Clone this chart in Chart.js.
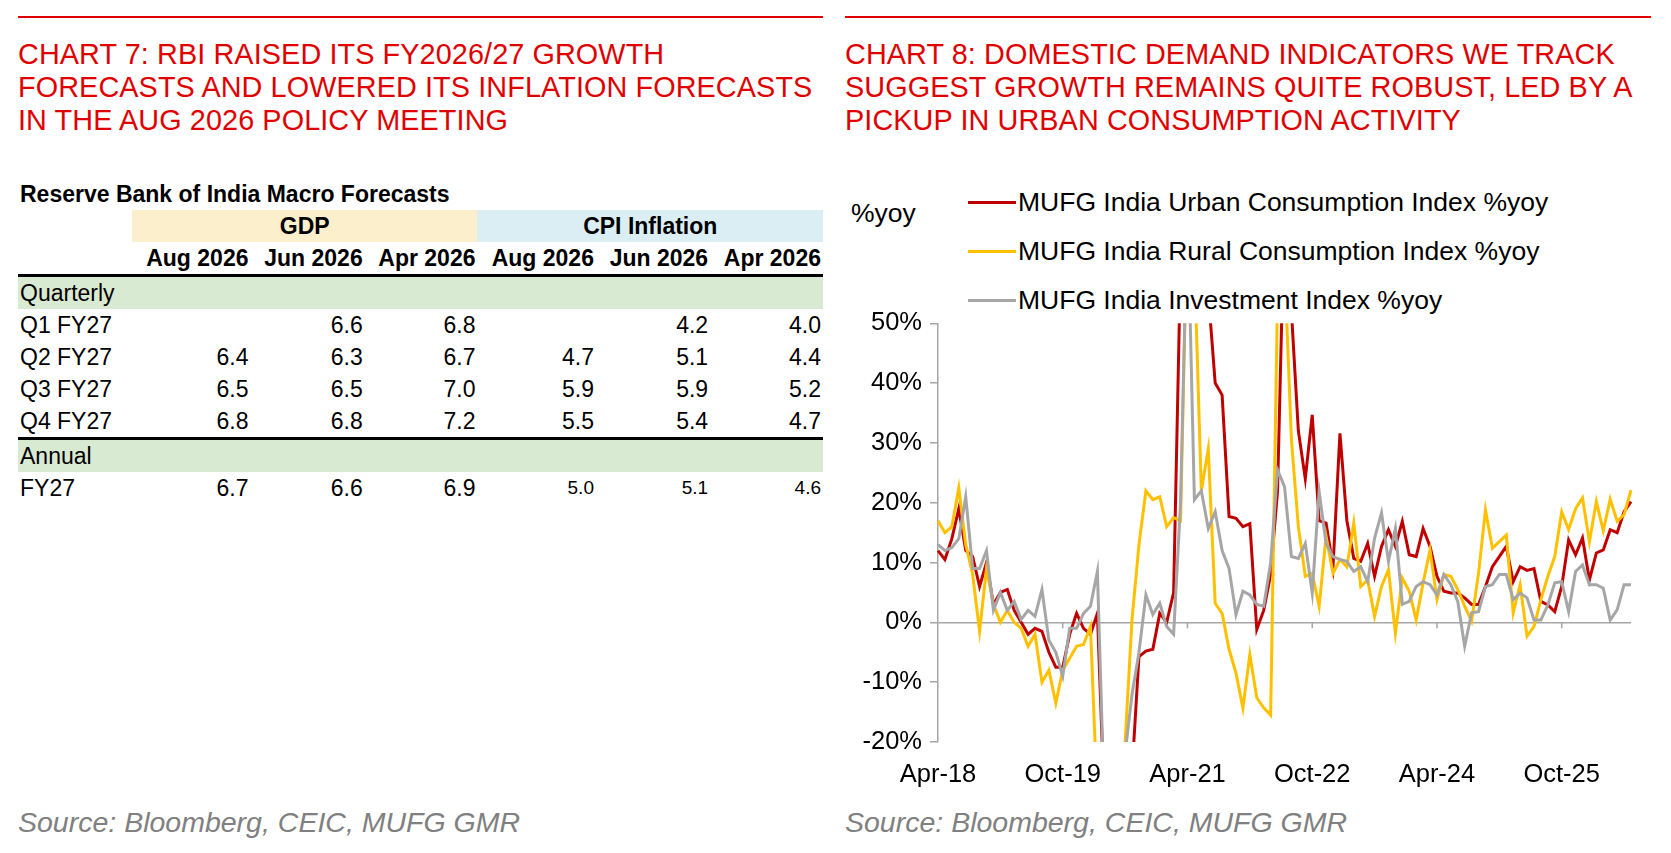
<!DOCTYPE html>
<html><head><meta charset="utf-8">
<script src="https://cdn.jsdelivr.net/npm/chart.js@4"></script>
<style>
body{margin:0;width:1671px;height:853px;background:#fff;font-family:"Liberation Sans",Arial,sans-serif;position:relative;overflow:hidden}
.rule{position:absolute;top:16px;height:2px;background:#e00000}
.title{position:absolute;top:38px;color:#e00000;font-size:28.8px;line-height:33px;letter-spacing:0.1px}
.src{position:absolute;top:806px;color:#808080;font-style:italic;font-size:28.5px}
#tbl{position:absolute;left:18px;top:178px;width:805px;font-family:"Liberation Sans Narrow","Arial Narrow","Liberation Sans",sans-serif}
#tbl table{border-collapse:collapse;width:805px;font-size:23px}
#tbl td{padding:0 2px;height:32px;text-align:right}
#tbl td:first-child{text-align:left;width:110px}
.cap{font-weight:bold;font-size:23px;height:30px;text-align:left!important}
.hd td{font-weight:bold;text-align:center!important}
.dates td{font-weight:bold;border-bottom:3px solid #000}
.band td{background:#d9ead3}
.sep td{border-bottom:3px solid #000}
#legend{position:absolute;left:968px;top:178px;font-size:26.5px;color:#000}
#legend div{height:49px;display:flex;align-items:center}
#legend i{display:inline-block;width:48px;height:3.5px;margin-right:2px}
#unit{position:absolute;left:851px;top:198px;font-size:26.5px}
#wrap{position:absolute;left:845px;top:300px;width:826px;height:500px}
</style></head><body>
<div class="rule" style="left:18px;width:805px"></div>
<div class="rule" style="left:845px;width:806px"></div>
<div class="title" style="left:18px">CHART 7: RBI RAISED ITS FY2026/27 GROWTH<br>FORECASTS AND LOWERED ITS INFLATION FORECASTS<br>IN THE AUG 2026 POLICY MEETING</div>
<div class="title" style="left:845px">CHART 8: DOMESTIC DEMAND INDICATORS WE TRACK<br>SUGGEST GROWTH REMAINS QUITE ROBUST, LED BY A<br>PICKUP IN URBAN CONSUMPTION ACTIVITY</div>

<div id="tbl"><table>
<tr><td class="cap" colspan="7">Reserve Bank of India Macro Forecasts</td></tr>
<tr class="hd"><td></td><td colspan="3" style="background:#fcefcb">GDP</td><td colspan="3" style="background:#dbeef3">CPI Inflation</td></tr>
<tr class="dates"><td></td><td>Aug 2026</td><td>Jun 2026</td><td>Apr 2026</td><td>Aug 2026</td><td>Jun 2026</td><td>Apr 2026</td></tr>
<tr class="band"><td colspan="7" style="text-align:left">Quarterly</td></tr>
<tr><td>Q1 FY27</td><td></td><td>6.6</td><td>6.8</td><td></td><td>4.2</td><td>4.0</td></tr>
<tr><td>Q2 FY27</td><td>6.4</td><td>6.3</td><td>6.7</td><td>4.7</td><td>5.1</td><td>4.4</td></tr>
<tr><td>Q3 FY27</td><td>6.5</td><td>6.5</td><td>7.0</td><td>5.9</td><td>5.9</td><td>5.2</td></tr>
<tr class="sep"><td>Q4 FY27</td><td>6.8</td><td>6.8</td><td>7.2</td><td>5.5</td><td>5.4</td><td>4.7</td></tr>
<tr class="band"><td colspan="7" style="text-align:left">Annual</td></tr>
<tr><td>FY27</td><td>6.7</td><td>6.6</td><td>6.9</td><td style="font-size:19px">5.0</td><td style="font-size:19px">5.1</td><td style="font-size:19px">4.6</td></tr>
</table></div>

<div id="unit">%yoy</div>
<div id="legend">
<div><i style="background:#c00000"></i>MUFG India Urban Consumption Index %yoy</div>
<div><i style="background:#ffc000"></i>MUFG India Rural Consumption Index %yoy</div>
<div><i style="background:#a6a6a6"></i>MUFG India Investment Index %yoy</div>
</div>
<div id="wrap"><canvas id="c" width="826" height="500"></canvas></div>

<div class="src" style="left:18px">Source: Bloomberg, CEIC, MUFG GMR</div>
<div class="src" style="left:845px">Source: Bloomberg, CEIC, MUFG GMR</div>

<script>
// monthly, Apr-18 .. Aug-26
const urban = [12, 10.5, 14, 19, 12, 11, 6, 10, 3, 5,
  5.5, 2, 0, -2, -1, -1.5, -5, -7.5, -7.5, -2,
  1.5, -1, -2, 1.5, -30, -35, -40, -35, -25, -5.7,
  -4.8, -4.5, 1.5, 0, 5, 60, 120, 100, 80, 55,
  40, 38, 17.7, 17.4, 16, 16.5, -1.2, 2, 8, 22,
  70, 52, 32, 24, 34.7, 17, 16.6, 9.3, 31.6, 17,
  10.7, 10.2, 13.2, 7.7, 12.7, 15.5, 12.7, 16.9, 11.3, 11,
  15.7, 12.7, 7.7, 5.2, 4.9, 4.9, 4.1, 3, 3, 6,
  9.3, 11, 12.7, 6.8, 9.3, 8.7, 9, 3.5, 2.9, 1.8,
  6, 13.8, 11.3, 14.1, 7.1, 11.6, 12.1, 15.5, 15, 18.5,
  20.2];
const rural = [17, 15, 16, 22.5, 13, 8, -1.5, 9, 3, 0,
  2, 0, -1, -4, -2, -10, -8, -13.5, -8, -6,
  -4, -3.7, -0.7, -30, -40, -40, -35, -20, 0.5, 13,
  22, 20.5, 21, 16, 17.5, 17, 70, 60, 22, 29,
  3.2, 1.5, -4.5, -8.5, -14.3, -5.4, -12.6, -14.3, -15.5, 55,
  60, 30.5, 16, 7.7, 8.2, 2.7, 14.4, 8.2, 10.5, 9.3,
  16.6, 6, 7.1, 1, 6, 8.8, -1.8, 7.4, 5.2, 0.4,
  6.6, 12.1, 3.8, 8, 7.7, 5.5, 2.7, 0.2, 8.2, 18.8,
  12.4, 13.5, 14.6, 1.6, 6.3, -2.3, -0.7, 3.8, 7.7, 11,
  18.5, 15.5, 19, 20.8, 13.5, 20.2, 15.3, 20.6, 16.9, 18,
  22.1];
const invest = [13, 12, 12.5, 14, 21, 9, 9, 12, 2, 5,
  2, 3.5, 0.5, 2, 1, 5.5, -3, -5, -9, -1,
  -1, 1.5, 2.7, 8.5, -30, -40, -40, -22, -12, -5,
  4.6, 1.3, 3.2, -0.7, -2, 20, 70, 20.5, 22, 15.7,
  18.5, 12, 9, 1.3, 5.2, 4.6, 3, 2.7, 10, 25.5,
  22.7, 11, 10.7, 13.2, 4.9, 21.9, 13.2, 11, 10.5, 10.2,
  8.5, 9.3, 6.8, 14.1, 18.3, 10.2, 15.7, 3, 3.5, 6,
  6.8, 6.3, 4.6, 8, 6.3, 3.5, -4, 1.6, 1.8, 6,
  6.3, 8, 8, 3.8, 4.9, 4.1, 0.4, 0.4, 2.9, 6.6,
  6.8, 1.8, 8.5, 9.6, 6.3, 6.3, 5.7, 0.4, 2.1, 6.3,
  6.3];
const monthNames = ['Jan','Feb','Mar','Apr','May','Jun','Jul','Aug','Sep','Oct','Nov','Dec'];
const months = urban.map((_, i) => { const m = 3 + i; return monthNames[m % 12] + '-' + String(18 + Math.floor(m / 12)); });
const shownTicks = ['Apr-18', 'Oct-19', 'Apr-21', 'Oct-22', 'Apr-24', 'Oct-25'];

const zeroTicks = {
  id: 'zeroTicks',
  afterDraw(chart) {
    const { ctx, scales: { x, y } } = chart;
    const y0 = y.getPixelForValue(0);
    ctx.save();
    ctx.strokeStyle = '#a6a6a6'; ctx.lineWidth = 1.5;
    months.forEach((m, i) => {
      if (!shownTicks.includes(m) || i === 0) return;
      const px = x.getPixelForValue(i);
      ctx.beginPath(); ctx.moveTo(px, y0); ctx.lineTo(px, y0 + 6); ctx.stroke();
    });
    ctx.restore();
  }
};

const ds = (data, color) => ({ data, borderColor: color, borderWidth: 3, pointRadius: 0, tension: 0, fill: false });
new Chart(document.getElementById('c'), {
  type: 'line',
  data: { labels: months, datasets: [ds(invest, '#a6a6a6'), ds(rural, '#ffc000'), ds(urban, '#c00000')] },
  plugins: [zeroTicks],
  options: {
    responsive: false, animation: false, maintainAspectRatio: false,
    layout: { padding: { top: 23, right: 40, left: 0, bottom: 0 } },
    plugins: { legend: { display: false }, tooltip: { enabled: false } },
    scales: {
      x: {
        grid: { display: false }, border: { display: false },
        afterFit: (s) => { s.height = 58; },
        ticks: { autoSkip: false, maxRotation: 0, color: '#000', font: { size: 25.5, family: 'Liberation Sans' }, padding: 10,
          callback: (v, i) => shownTicks.includes(months[i]) ? months[i] : null }
      },
      y: {
        min: -20, max: 50,
        afterFit: (s) => { s.width = 93; },
        border: { color: '#a6a6a6', width: 1.5 },
        grid: { color: (c) => c.tick && c.tick.value === 0 ? '#a6a6a6' : 'transparent', lineWidth: 1.5, tickColor: '#a6a6a6', tickLength: 8 },
        ticks: { stepSize: 10, color: '#000', font: { size: 25.5, family: 'Liberation Sans' }, padding: 8, callback: (v) => v + '%' }
      }
    }
  }
});
</script>
</body></html>
